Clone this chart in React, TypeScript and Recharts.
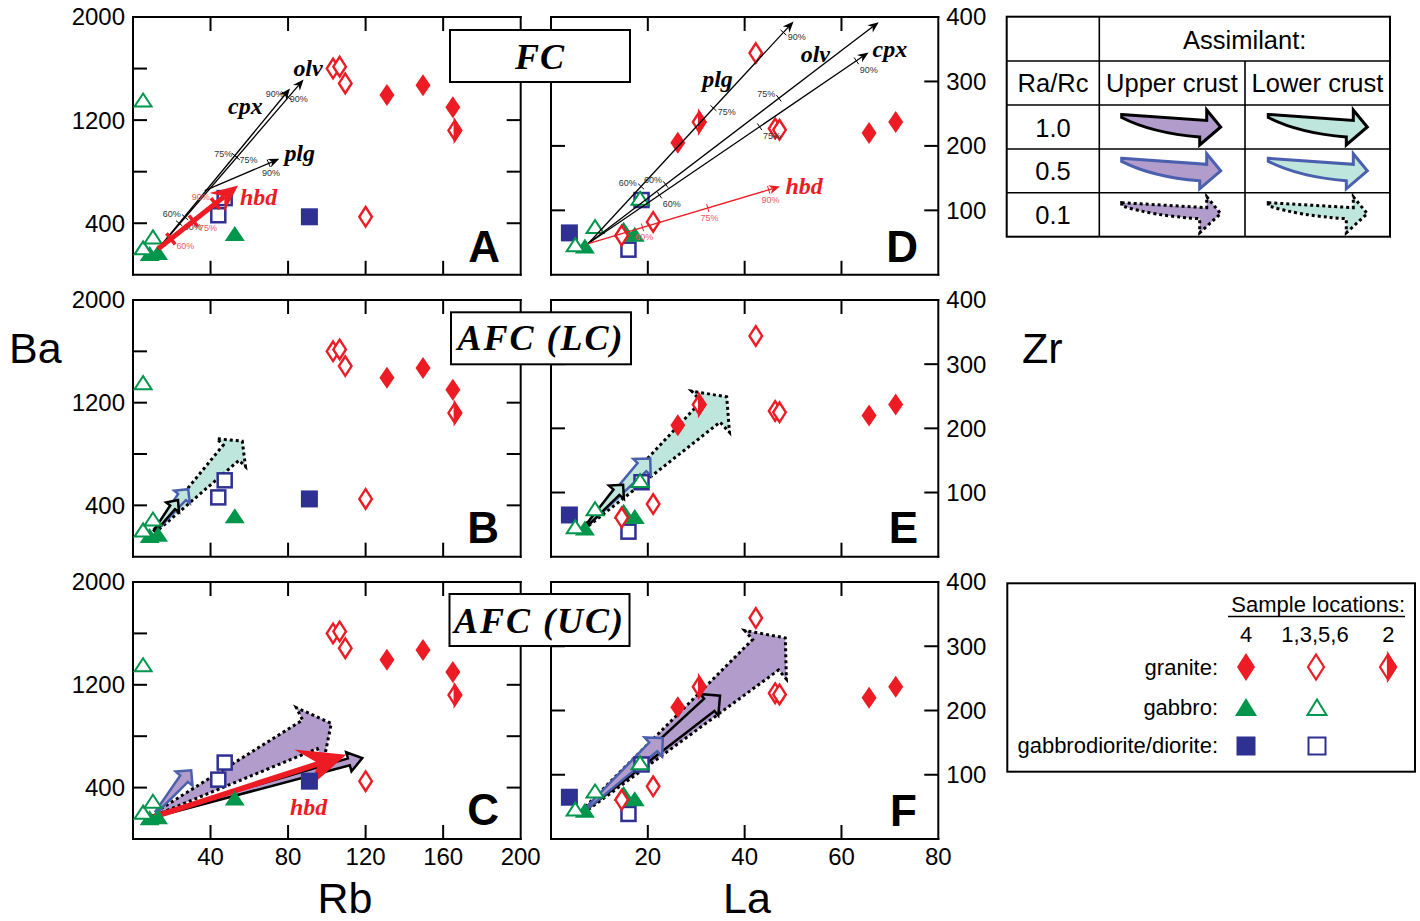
import React from 'react';
import { ScatterChart, Scatter, XAxis, YAxis } from 'recharts';

const RED = '#ed1c24';
const RED_LAB = '#f15a5a';
const GREEN = '#00964b';
const NAVY = '#2e3192';
const PURPLE = '#b19ccb';
const TEAL = '#bfe6dc';
const BLUE = '#4a5fad';
const SANS = '"Liberation Sans", Arial, sans-serif';
const SERIF = '"Liberation Serif", "Times New Roman", serif';

// ---------- axes ----------
const rbDomain = [0, 200];
const baDomain = [0, 2000];
const laDomain = [0, 80];
const zrDomain = [0, 400];
const rbTicks = [40, 80, 120, 160];
const rbLabels = [40, 80, 120, 160, 200];
const baTicks = [400, 800, 1200, 1600];
const baLabels = [400, 1200, 2000];
const laTicks = [20, 40, 60];
const laLabels = [20, 40, 60, 80];
const zrTicks = [100, 200, 300];
const zrLabels = [100, 200, 300, 400];

// ---------- samples: Rb (x) vs Ba (y) ----------
const rbBaGranite4 = [{ x: 131, y: 1395 }, { x: 149.6, y: 1470 }, { x: 165, y: 1300 }];
const rbBaGranite1356 = [{ x: 103.2, y: 1600 }, { x: 106.6, y: 1615 }, { x: 109.5, y: 1485 }, { x: 120, y: 450 }];
const rbBaGranite2 = [{ x: 166, y: 1120 }];
const rbBaGabbro4 = [{ x: 8.6, y: 161 }, { x: 12.9, y: 170 }, { x: 52.5, y: 316 }];
const rbBaGabbro1356 = [{ x: 5.2, y: 1352 }, { x: 5.2, y: 205 }, { x: 10.3, y: 290 }];
const rbBaDiorite4 = [{ x: 91, y: 450 }];
const rbBaDiorite1356 = [{ x: 44, y: 462 }, { x: 47.3, y: 595 }];

// ---------- samples: La (x) vs Zr (y) ----------
const laZrGranite4 = [{ x: 26.2, y: 205 }, { x: 65.7, y: 220 }, { x: 71.2, y: 237 }];
const laZrGranite1356 = [{ x: 14.6, y: 61 }, { x: 21.1, y: 82 }, { x: 42.3, y: 344 }, { x: 46.3, y: 227 }, { x: 47.2, y: 225 }];
const laZrGranite2 = [{ x: 30.6, y: 237 }];
const laZrGabbro4 = [{ x: 7.0, y: 44 }, { x: 15, y: 70 }, { x: 17.3, y: 62 }];
const laZrGabbro1356 = [{ x: 5, y: 46 }, { x: 9.1, y: 74 }, { x: 18.4, y: 118 }];
const laZrDiorite4 = [{ x: 3.8, y: 65 }];
const laZrDiorite1356 = [{ x: 16, y: 39 }, { x: 18.7, y: 116 }];

// ---------- FC vectors (start, % ticks, end) ----------
const fcA_olv = [{ x: 12.9, y: 200 }, { x: 27, y: 445, lab: '60%', side: -1 }, { x: 52.5, y: 925, lab: '75%', side: -1 }, { x: 79, y: 1391, lab: '90%', side: -1 }, { x: 88, y: 1515 }];
const fcA_cpx = [{ x: 12.9, y: 200 }, { x: 25, y: 385, lab: '60%', side: 1 }, { x: 52.5, y: 925, lab: '75%', side: 1 }, { x: 79, y: 1391, lab: '90%', side: 1 }, { x: 81, y: 1445 }];
const fcA_plg = [{ x: 37, y: 653 }, { x: 70.5, y: 847, lab: '90%', side: 1 }, { x: 75.5, y: 900 }];
const fcA_hbd = [{ x: 12.9, y: 200 }, { x: 18.9, y: 290, lab: '60%', side: 1 }, { x: 31, y: 420, lab: '75%', side: 1 }, { x: 41.3, y: 575, lab: '90%', side: -1 }, { x: 54.2, y: 692 }];

const fcD_plg = [{ x: 7.7, y: 48.5 }, { x: 19.1, y: 133.6, lab: '60%', side: -1 }, { x: 33.7, y: 257.6, lab: '75%', side: 1 }, { x: 48, y: 376, lab: '90%', side: 1 }, { x: 50.1, y: 393 }];
const fcD_olv = [{ x: 7.7, y: 48.5 }, { x: 23.8, y: 139, lab: '60%', side: -1 }, { x: 47, y: 274.5, lab: '75%', side: -1 }, { x: 67.7, y: 392 }];
const fcD_cpx = [{ x: 7.7, y: 48.5 }, { x: 22.2, y: 126, lab: '60%', side: 1 }, { x: 42.9, y: 231.8, lab: '75%', side: 1 }, { x: 62.8, y: 335, lab: '90%', side: 1 }, { x: 65.6, y: 345 }];
const fcD_hbd = [{ x: 7.7, y: 48.5 }, { x: 18.7, y: 78.5, lab: '60%', side: 1 }, { x: 32.2, y: 108, lab: '75%', side: 1 }, { x: 44.9, y: 133.6, lab: '90%', side: 1 }, { x: 47.3, y: 137 }];

// ---------- mineral labels (anchor at text baseline centre) ----------
const lblA_olv = [{ x: 90.3, y: 1539 }];
const lblA_cpx = [{ x: 58, y: 1249 }];
const lblA_plg = [{ x: 86, y: 886 }];
const lblA_hbd = [{ x: 64.8, y: 544 }];
const lblD_plg = [{ x: 34.4, y: 291 }];
const lblD_olv = [{ x: 54.6, y: 330 }];
const lblD_cpx = [{ x: 70, y: 338 }];
const lblD_hbd = [{ x: 52.3, y: 125 }];
const lblC_hbd = [{ x: 90.6, y: 189 }];

// ---------- AFC vectors (start, end) ----------
const afcLcB_10 = [{ x: 11.2, y: 200 }, { x: 23.2, y: 441 }];
const afcLcB_05 = [{ x: 11.2, y: 200 }, { x: 28.5, y: 526 }];
const afcLcB_01 = [{ x: 11.2, y: 200 }, { x: 56.4, y: 900 }];
const afcLcE_10 = [{ x: 7.4, y: 49 }, { x: 14.9, y: 112 }];
const afcLcE_05 = [{ x: 7.4, y: 49 }, { x: 20.5, y: 153 }];
const afcLcE_01 = [{ x: 7.4, y: 49 }, { x: 36.3, y: 249 }];
const afcUcC_05 = [{ x: 12, y: 210 }, { x: 30, y: 535 }];
const afcUcC_01 = [{ x: 12, y: 200 }, { x: 102.3, y: 900 }];
const afcUcC_10 = [{ x: 10.3, y: 175 }, { x: 118.3, y: 630 }];
const afcUcC_hbd = [{ x: 10.3, y: 170 }, { x: 110, y: 656 }];
const afcUcF_05 = [{ x: 7.4, y: 48 }, { x: 23.1, y: 157 }];
const afcUcF_10 = [{ x: 7.4, y: 48 }, { x: 34.9, y: 223 }];
const afcUcF_01 = [{ x: 7.4, y: 48 }, { x: 48.4, y: 313 }];

// ---------- legend text ----------
const raRcRows = ['1.0', '0.5', '0.1'];
const assimilants = ['Upper crust', 'Lower crust'];
const locationCols = ['4', '1,3,5,6', '2'];
const rockRows = ['granite:', 'gabbro:', 'gabbrodiorite/diorite:'];

// ---------- shapes ----------
const Empty = () => <g />;
const dia = (cx, cy, hw, hh) => `${cx},${cy - hh} ${cx + hw},${cy} ${cx},${cy + hh} ${cx - hw},${cy}`;
const DiamondFilled = (p) => <polygon points={dia(p.cx, p.cy, 7.5, 11)} fill={RED} />;
const DiamondOpen = (p) => <polygon points={dia(p.cx, p.cy, 6.3, 9.8)} fill="#fff" stroke={RED} strokeWidth={2.4} />;
const DiamondHalf = (p) => (
  <g>
    <polygon points={dia(p.cx, p.cy, 6.3, 9.8)} fill="#fff" stroke={RED} strokeWidth={2.4} />
    <polygon points={`${p.cx},${p.cy - 9.8} ${p.cx + 6.3},${p.cy} ${p.cx},${p.cy + 9.8}`} fill={RED} stroke={RED} strokeWidth={2.4} />
  </g>
);
const TriFilled = (p) => <polygon points={`${p.cx},${p.cy - 8} ${p.cx + 10},${p.cy + 7} ${p.cx - 10},${p.cy + 7}`} fill={GREEN} />;
const TriOpen = (p) => <polygon points={`${p.cx},${p.cy - 7} ${p.cx + 8.5},${p.cy + 6} ${p.cx - 8.5},${p.cy + 6}`} fill="#fff" stroke={GREEN} strokeWidth={2} />;
const SqFilled = (p) => <rect x={p.cx - 8.5} y={p.cy - 8.5} width={17} height={17} fill={NAVY} />;
const SqOpen = (p) => <rect x={p.cx - 7} y={p.cy - 7} width={14} height={14} fill="#fff" stroke={NAVY} strokeWidth={2.5} />;

function FatArrow(props: any) {
  const { points, st } = props;
  if (!points || points.length < 2) return null;
  const p0 = points[0];
  const p1 = points[points.length - 1];
  const dx = p1.x - p0.x;
  const dy = p1.y - p0.y;
  const L = Math.hypot(dx, dy) || 1;
  const ux = dx / L, uy = dy / L;
  const nx = uy, ny = -ux;
  const bx = p1.x - ux * st.h, by = p1.y - uy * st.h;
  const P = (x, y) => `${x.toFixed(1)},${y.toFixed(1)}`;
  const poly = [
    P(p0.x + nx * st.t, p0.y + ny * st.t),
    P(bx + nx * st.s, by + ny * st.s),
    P(bx + nx * st.hw, by + ny * st.hw),
    P(p1.x, p1.y),
    P(bx - nx * st.hw, by - ny * st.hw),
    P(bx - nx * st.s, by - ny * st.s),
    P(p0.x - nx * st.t, p0.y - ny * st.t),
  ].join(' ');
  return (
    <polygon points={poly} fill={st.fill} stroke={st.stroke} strokeWidth={st.sw} strokeDasharray={st.dash} strokeLinejoin="miter" />
  );
}

function ThinArrow(props: any) {
  const { points, st, meta } = props;
  if (!points || points.length < 2) return null;
  const p0 = points[0];
  const pe = points[points.length - 1];
  const dx = pe.x - p0.x, dy = pe.y - p0.y;
  const L = Math.hypot(dx, dy) || 1;
  const ux = dx / L, uy = dy / L;
  const lx = uy, ly = -ux; // left normal (screen)
  const nb = { x: pe.x - ux * st.hl * st.notch, y: pe.y - uy * st.hl * st.notch };
  const b = { x: pe.x - ux * st.hl, y: pe.y - uy * st.hl };
  const head = `M${pe.x},${pe.y} L${b.x + lx * st.hw},${b.y + ly * st.hw} L${nb.x},${nb.y} L${b.x - lx * st.hw},${b.y - ly * st.hw} Z`;
  const items = [];
  for (let i = 1; i < points.length - 1; i++) {
    const q = points[i];
    const m = meta ? meta[i] : null;
    const t = (q.x - p0.x) * ux + (q.y - p0.y) * uy;
    const cx = p0.x + ux * t, cy = p0.y + uy * t;
    items.push(
      <line key={'k' + i} x1={cx + lx * st.tk} y1={cy + ly * st.tk} x2={cx - lx * st.tk} y2={cy - ly * st.tk} stroke={st.color} strokeWidth={st.tw} />
    );
    if (m && m.lab) {
      const nx = -m.side * lx, ny = -m.side * ly;
      const px = cx + nx * st.off, py = cy + ny * st.off;
      const anchor = nx > 0.5 ? 'start' : nx < -0.5 ? 'end' : 'middle';
      const dyv = ny > 0.8 ? '0.8em' : ny < -0.8 ? '-0.1em' : '0.35em';
      items.push(
        <text key={'l' + i} x={px} y={py} dy={dyv} textAnchor={anchor} fontSize={9} fontFamily={SANS} fill={st.lab}>{m.lab}</text>
      );
    }
  }
  return (
    <g>
      <line x1={p0.x} y1={p0.y} x2={nb.x} y2={nb.y} stroke={st.color} strokeWidth={st.lw} />
      <path d={head} fill={st.color} />
      {items}
    </g>
  );
}

const stBlackThin = { color: '#000', lw: 1.3, hl: 11, hw: 4.5, notch: 0.7, tk: 4, tw: 1, off: 6, lab: '#333' };
const stRedThin = { color: RED, lw: 1.3, hl: 11, hw: 4.5, notch: 0.7, tk: 4, tw: 1, off: 6, lab: RED_LAB };
const stRedThickA = { color: RED, lw: 5, hl: 27, hw: 12, notch: 0.65, tk: 7, tw: 3.5, off: 9, lab: RED_LAB };
const stRedThickC = { color: RED, lw: 5.5, hl: 48, hw: 21, notch: 0.6, tk: 0, tw: 0, off: 0, lab: RED_LAB };

const S = (key, data, shape) => (
  <Scatter key={key} xAxisId="b" yAxisId="l" data={data} shape={shape} isAnimationActive={false} />
);
const Fat = (key, data, st) => (
  <Scatter key={key} xAxisId="b" yAxisId="l" data={data} shape={Empty} line={<FatArrow st={st} />} isAnimationActive={false} />
);
const Thin = (key, data, st) => (
  <Scatter key={key} xAxisId="b" yAxisId="l" data={data} shape={Empty} line={<ThinArrow st={st} meta={data} />} isAnimationActive={false} />
);
const Lbl = (key, data, text, color) => (
  <Scatter
    key={key}
    xAxisId="b"
    yAxisId="l"
    data={data}
    isAnimationActive={false}
    shape={(p) => (
      <text x={p.cx} y={p.cy} textAnchor="middle" fontFamily={SERIF} fontStyle="italic" fontWeight="bold" fontSize={24} fill={color}>{text}</text>
    )}
  />
);

const markersRb = (k) => [
  S(k + 'g1', rbBaGranite1356, DiamondOpen),
  S(k + 'g2', rbBaGranite2, DiamondHalf),
  S(k + 'g4', rbBaGranite4, DiamondFilled),
  S(k + 'd4', rbBaDiorite4, SqFilled),
  S(k + 'd1', rbBaDiorite1356, SqOpen),
  S(k + 'b4', rbBaGabbro4, TriFilled),
  S(k + 'b1', rbBaGabbro1356, TriOpen),
];
const markersLa = (k) => [
  S(k + 'd4', laZrDiorite4, SqFilled),
  S(k + 'd1', laZrDiorite1356, SqOpen),
  S(k + 'b4', laZrGabbro4, TriFilled),
  S(k + 'b1', laZrGabbro1356, TriOpen),
  S(k + 'g1', laZrGranite1356, DiamondOpen),
  S(k + 'g2', laZrGranite2, DiamondHalf),
  S(k + 'g4', laZrGranite4, DiamondFilled),
];

const AXL = { stroke: '#000', strokeWidth: 2, strokeLinecap: 'square' };

function makeTick(orient, inward, labels) {
  return function TickItem(p: any) {
    const x = Number(p.x), y = Number(p.y);
    const v = p.payload ? p.payload.value : null;
    const has = (arr) => arr.some((a) => Math.abs(a - v) < 1e-6);
    const isIn = has(inward);
    const isLab = has(labels);
    const txt = { fontSize: 24, fontFamily: SANS, fill: '#000' };
    return (
      <g>
        {isIn && orient === 'left' && <line x1={x} y1={y} x2={x + 14} y2={y} stroke="#000" strokeWidth={2} />}
        {isIn && orient === 'right' && <line x1={x} y1={y} x2={x - 14} y2={y} stroke="#000" strokeWidth={2} />}
        {isIn && orient === 'top' && <line x1={x} y1={y} x2={x} y2={y + 14} stroke="#000" strokeWidth={2} />}
        {isIn && orient === 'bottom' && <line x1={x} y1={y} x2={x} y2={y - 14} stroke="#000" strokeWidth={2} />}
        {isLab && orient === 'left' && <text x={x - 8} y={y} dy="0.35em" textAnchor="end" {...txt}>{v}</text>}
        {isLab && orient === 'right' && <text x={x + 8} y={y} dy="0.35em" textAnchor="start" {...txt}>{v}</text>}
        {isLab && orient === 'bottom' && <text x={x} y={y + 26} textAnchor="middle" {...txt}>{v}</text>}
      </g>
    );
  };
}

function Panel(props: any) {
  const { left, top, w, h, xDomain, yDomain, xTicks, xLabels, yTicks, yLabels, ySide, children } = props;
  const ML = 70, MR = 70, MT = 20, MB = 50;
  const uniq = (a, b) => Array.from(new Set([...a, ...b])).sort((m: any, n: any) => m - n);
  const leftLabels = ySide === 'left' ? yLabels : [];
  const rightLabels = ySide === 'right' ? yLabels : [];
  return (
    <div style={{ position: 'absolute', left: left - ML, top: top - MT }}>
      <ScatterChart width={w + ML + MR} height={h + MT + MB} margin={{ top: 0, right: 0, bottom: 0, left: 0 }}>
        <XAxis xAxisId="b" dataKey="x" type="number" domain={xDomain} orientation="bottom" height={MB} ticks={uniq(xTicks, xLabels)} interval={0} tickSize={0} tickMargin={0} tickLine={false} axisLine={AXL} tick={makeTick('bottom', xTicks, xLabels)} />
        <XAxis xAxisId="t" dataKey="x" type="number" domain={xDomain} orientation="top" height={MT} ticks={xTicks} interval={0} tickSize={0} tickMargin={0} tickLine={false} axisLine={AXL} tick={makeTick('top', xTicks, [])} />
        <YAxis yAxisId="l" dataKey="y" type="number" domain={yDomain} orientation="left" width={ML} ticks={uniq(yTicks, leftLabels)} interval={0} tickSize={0} tickMargin={0} tickLine={false} axisLine={AXL} tick={makeTick('left', yTicks, leftLabels)} />
        <YAxis yAxisId="r" dataKey="y" type="number" domain={yDomain} orientation="right" width={MR} ticks={uniq(yTicks, rightLabels)} interval={0} tickSize={0} tickMargin={0} tickLine={false} axisLine={AXL} tick={makeTick('right', yTicks, rightLabels)} />
        <Scatter xAxisId="t" yAxisId="r" data={[{ x: xDomain[0], y: yDomain[0] }]} shape={Empty} isAnimationActive={false} />
        {children}
      </ScatterChart>
    </div>
  );
}

const LC = TEAL, UC = PURPLE;
const sz = (t, s, hw, h) => ({ t, s, hw, h });
const sty10 = { stroke: '#000', sw: 2.5 };
const sty05 = { stroke: BLUE, sw: 2.5 };
const sty01 = { stroke: '#000', sw: 3, dash: '3 3' };

function LegendArrow({ x, y, fill, stroke, dash, thin }: any) {
  const d = thin
    ? 'M0,-12 L85,-7 L85,-18 L99,-1 L78,18 L78,4 Q30,1 0,-9 Z'
    : 'M0,-12.5 L85,-6.5 L85,-17 L99,0 L78,18 L78,10 Q30,6 0,-9.5 Z';
  return <path transform={`translate(${x},${y})`} d={d} fill={fill} stroke={stroke} strokeWidth={3} strokeDasharray={dash} strokeLinejoin="miter" />;
}

export default function App() {
  const colL = { left: 133.3, w: 387.7 };
  const colR = { left: 551, w: 387.3 };
  const rows = [{ top: 16.7, h: 257.8 }, { top: 300, h: 256.7 }, { top: 582.3, h: 257 }];
  const rbAx = { xDomain: rbDomain, yDomain: baDomain, xTicks: rbTicks, yTicks: baTicks, yLabels: baLabels, ySide: 'left' };
  const laAx = { xDomain: laDomain, yDomain: zrDomain, xTicks: laTicks, yTicks: zrTicks, yLabels: zrLabels, ySide: 'right' };

  const rowYs = [127, 170.8, 214.7];
  const rowStyles = [sty10, sty05, sty01];

  return (
    <div style={{ position: 'absolute', left: 0, top: 0, width: 1420, height: 921, background: '#fff', fontFamily: SANS }}>
      {/* A */}
      <Panel {...colL} {...rows[0]} {...rbAx} xLabels={[]}>
        {[
          ...markersRb('A'),
          Thin('A1', fcA_olv, stBlackThin),
          Thin('A2', fcA_cpx, stBlackThin),
          Thin('A3', fcA_plg, stBlackThin),
          Thin('A4', fcA_hbd, stRedThickA),
          Lbl('A5', lblA_olv, 'olv', '#000'),
          Lbl('A6', lblA_cpx, 'cpx', '#000'),
          Lbl('A7', lblA_plg, 'plg', '#000'),
          Lbl('A8', lblA_hbd, 'hbd', RED),
        ]}
      </Panel>
      {/* D */}
      <Panel {...colR} {...rows[0]} {...laAx} xLabels={[]}>
        {[
          ...markersLa('D'),
          Thin('D1', fcD_plg, stBlackThin),
          Thin('D2', fcD_olv, stBlackThin),
          Thin('D3', fcD_cpx, stBlackThin),
          Thin('D4', fcD_hbd, stRedThin),
          Lbl('D5', lblD_plg, 'plg', '#000'),
          Lbl('D6', lblD_olv, 'olv', '#000'),
          Lbl('D7', lblD_cpx, 'cpx', '#000'),
          Lbl('D8', lblD_hbd, 'hbd', RED),
        ]}
      </Panel>
      {/* B */}
      <Panel {...colL} {...rows[1]} {...rbAx} xLabels={[]}>
        {[
          Fat('B1', afcLcB_01, { fill: LC, ...sty01, ...sz(1.5, 11, 20, 16) }),
          Fat('B2', afcLcB_05, { fill: LC, ...sty05, ...sz(1, 5, 10, 10) }),
          Fat('B3', afcLcB_10, { fill: LC, ...sty10, ...sz(1, 3, 8, 9) }),
          ...markersRb('B'),
        ]}
      </Panel>
      {/* E */}
      <Panel {...colR} {...rows[1]} {...laAx} xLabels={[]}>
        {[
          Fat('E1', afcLcE_01, { fill: LC, ...sty01, ...sz(1.5, 14, 28, 22) }),
          Fat('E2', afcLcE_05, { fill: LC, ...sty05, ...sz(1, 6, 12, 12) }),
          Fat('E3', afcLcE_10, { fill: LC, ...sty10, ...sz(1, 4, 10, 10) }),
          ...markersLa('E'),
        ]}
      </Panel>
      {/* C */}
      <Panel {...colL} {...rows[2]} {...rbAx} xLabels={rbLabels}>
        {[
          Fat('C1', afcUcC_01, { fill: UC, ...sty01, ...sz(1.5, 16, 30, 24) }),
          Fat('C2', afcUcC_05, { fill: UC, ...sty05, ...sz(1, 5, 11, 11) }),
          Fat('C3', afcUcC_10, { fill: UC, ...sty10, ...sz(1, 3.5, 10, 14) }),
          Thin('C4', afcUcC_hbd, stRedThickC),
          ...markersRb('C'),
          Lbl('C5', lblC_hbd, 'hbd', RED),
        ]}
      </Panel>
      {/* F */}
      <Panel {...colR} {...rows[2]} {...laAx} xLabels={laLabels}>
        {[
          Fat('F1', afcUcF_01, { fill: UC, ...sty01, ...sz(2, 20, 32, 26) }),
          Fat('F2', afcUcF_10, { fill: UC, ...sty10, ...sz(1, 8, 14, 14) }),
          Fat('F3', afcUcF_05, { fill: UC, ...sty05, ...sz(1, 6, 13, 13) }),
          ...markersLa('F'),
        ]}
      </Panel>

      <svg width={1420} height={921} style={{ position: 'absolute', left: 0, top: 0, pointerEvents: 'none' }}>
        {/* title boxes */}
        <rect x={450} y={30} width={180} height={52} fill="#fff" stroke="#000" strokeWidth={2} />
        <text x={540} y={69} textAnchor="middle" fontFamily={SERIF} fontStyle="italic" fontWeight="bold" fontSize={36} letterSpacing={1}>FC</text>
        <rect x={451} y={312.3} width={180} height={52} fill="#fff" stroke="#000" strokeWidth={2} />
        <text x={541} y={350} textAnchor="middle" fontFamily={SERIF} fontStyle="italic" fontWeight="bold" fontSize={36} letterSpacing={2}>AFC (LC)</text>
        <rect x={449.5} y={594} width={180} height={52} fill="#fff" stroke="#000" strokeWidth={2} />
        <text x={539.5} y={632.5} textAnchor="middle" fontFamily={SERIF} fontStyle="italic" fontWeight="bold" fontSize={36} letterSpacing={2}>AFC (UC)</text>

        {/* panel letters */}
        {[['A', 500, 262], ['D', 918, 262], ['B', 499, 543], ['E', 918, 543], ['C', 499, 825], ['F', 917, 826]].map(([t, x, y]: any) => (
          <text key={t} x={x} y={y} textAnchor="end" fontFamily={SANS} fontWeight="bold" fontSize={44}>{t}</text>
        ))}

        {/* axis titles */}
        <text x={9} y={363} fontFamily={SANS} fontSize={43}>Ba</text>
        <text x={1022} y={363} fontFamily={SANS} fontSize={43}>Zr</text>
        <text x={345} y={913} textAnchor="middle" fontFamily={SANS} fontSize={43}>Rb</text>
        <text x={747} y={913} textAnchor="middle" fontFamily={SANS} fontSize={43}>La</text>

        {/* Assimilant table */}
        <g fontFamily={SANS} fontSize={25.5}>
          <rect x={1006.7} y={16.7} width={383.3} height={220} fill="#fff" stroke="#000" strokeWidth={2} />
          <line x1={1099.3} y1={16.7} x2={1099.3} y2={236.7} stroke="#000" strokeWidth={1.6} />
          <line x1={1245} y1={61} x2={1245} y2={236.7} stroke="#000" strokeWidth={1.6} />
          {[61, 105, 149, 192.7].map((y) => (
            <line key={y} x1={1006.7} y1={y} x2={1390} y2={y} stroke="#000" strokeWidth={1.6} />
          ))}
          <text x={1244.7} y={48.5} textAnchor="middle">Assimilant:</text>
          <text x={1053} y={92} textAnchor="middle">Ra/Rc</text>
          <text x={1172} y={92} textAnchor="middle">{assimilants[0]}</text>
          <text x={1317.5} y={92} textAnchor="middle">{assimilants[1]}</text>
          {raRcRows.map((r, i) => (
            <text key={r} x={1053} y={rowYs[i] + 9.5} textAnchor="middle">{r}</text>
          ))}
          {rowYs.map((y, i) => (
            <g key={'ar' + i}>
              <LegendArrow x={1121.7} y={y} fill={PURPLE} stroke={rowStyles[i].stroke} dash={rowStyles[i].dash} thin={i === 2} />
              <LegendArrow x={1268.3} y={y} fill={TEAL} stroke={rowStyles[i].stroke} dash={rowStyles[i].dash} thin={i === 2} />
            </g>
          ))}
        </g>

        {/* Sample locations legend */}
        <g fontFamily={SANS} fontSize={22}>
          <rect x={1007.3} y={583.3} width={407.7} height={188.4} fill="#fff" stroke="#000" strokeWidth={2} />
          <text x={1405} y={611.5} textAnchor="end">Sample locations:</text>
          <line x1={1228} y1={616.5} x2={1405} y2={616.5} stroke="#000" strokeWidth={1.5} />
          {locationCols.map((c, i) => (
            <text key={c} x={[1246, 1315, 1388.3][i]} y={642} textAnchor="middle">{c}</text>
          ))}
          {rockRows.map((r, i) => (
            <text key={r} x={1218} y={[675, 715, 752.5][i]} textAnchor="end">{r}</text>
          ))}
          <polygon points={dia(1246, 667, 9, 14)} fill={RED} />
          <polygon points={dia(1316, 667, 8, 12.5)} fill="#fff" stroke={RED} strokeWidth={2.2} />
          <polygon points={dia(1388, 667, 8, 12.5)} fill="#fff" stroke={RED} strokeWidth={2.2} />
          <polygon points={`1388,654.5 1396,667 1388,679.5`} fill={RED} stroke={RED} strokeWidth={2.2} />
          <polygon points={`1246,698 1257,716 1235,716`} fill={GREEN} />
          <polygon points={`1317,699.5 1326.5,715 1307.5,715`} fill="#fff" stroke={GREEN} strokeWidth={2} />
          <rect x={1236.5} y={736.5} width={19} height={19} fill={NAVY} />
          <rect x={1308.5} y={737.5} width={17} height={17} fill="#fff" stroke={NAVY} strokeWidth={2} />
        </g>
      </svg>
    </div>
  );
}
